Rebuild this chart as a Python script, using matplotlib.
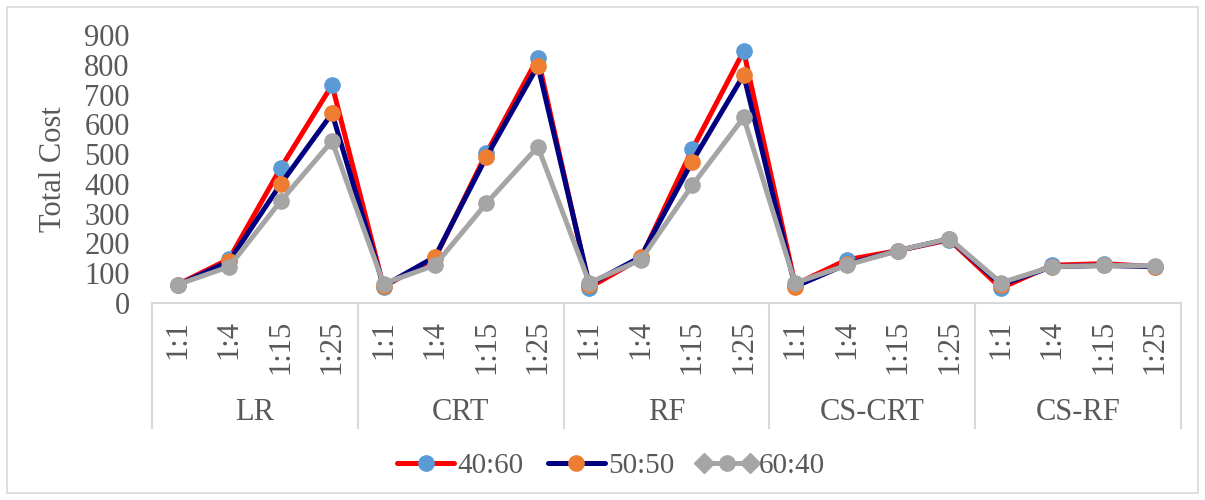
import matplotlib
matplotlib.use("Agg")
import matplotlib.pyplot as plt
from matplotlib.lines import Line2D
from matplotlib.patches import Rectangle
from matplotlib.legend_handler import HandlerBase
import matplotlib.transforms as mtransforms

plt.rcParams['font.family'] = ['Liberation Serif', 'DejaVu Serif']

ratios = ["1:1", "1:4", "1:15", "1:25"]
models = ["LR", "CRT", "RF", "CS-CRT", "CS-RF"]

cost_40_60 = [62, 148, 453, 732, 55, 150, 503, 823, 52, 150, 516, 846,
              62, 145, 176, 212, 50, 127, 132, 122]
cost_50_50 = [60, 140, 399, 637, 57, 155, 491, 797, 62, 155, 475, 766,
              55, 130, 176, 215, 62, 122, 126, 122]
cost_60_40 = [62, 122, 342, 544, 65, 127, 335, 525, 68, 145, 395, 623,
              67, 127, 176, 216, 68, 122, 126, 125]

txt = "#595959"
grid = "#d9d9d9"
fs = 22
lw = 3.6
ms = 11


class LineKey(HandlerBase):
    """Line with a marker in the middle and optional diamond ends."""

    def __init__(self, line_color, dot_color, ends=False):
        super().__init__()
        self.line_color = line_color
        self.dot_color = dot_color
        self.ends = ends

    def create_artists(self, legend, orig_handle, xdescent, ydescent,
                       width, height, fontsize, trans):
        y = height / 2 - ydescent
        x0, x1 = -xdescent, width - xdescent
        arts = []
        if self.ends:
            arts.append(Line2D([x0 + 4, x1 - 4], [y, y], color=self.line_color,
                               lw=lw, transform=trans))
            arts.append(Line2D([x0 + 4, x1 - 4], [y, y], lw=0, marker="D",
                               ms=ms * 0.9, color=self.line_color,
                               transform=trans))
        else:
            arts.append(Line2D([x0, x1], [y, y], color=self.line_color, lw=lw,
                               solid_capstyle="round", transform=trans))
        arts.append(Line2D([(x0 + x1) / 2], [y], lw=0, marker="o", ms=ms,
                           mfc=self.dot_color, mec=self.dot_color,
                           transform=trans))
        return arts


fig = plt.figure(figsize=(12.05, 5.0), dpi=100)
ax = fig.add_axes([152/1205, 1 - 303/500, 1029/1205, 268/500])

# outer chart border
fig.patches.append(Rectangle((7/1205, 7/500), 1191/1205, 486/500,
                             transform=fig.transFigure, fill=False,
                             edgecolor=grid, linewidth=1.2))

x = list(range(len(models) * len(ratios)))
l1, = ax.plot(x, cost_40_60, color="#ff0000", lw=lw, marker="o", ms=ms,
              mfc="#5b9bd5", mec="#5b9bd5", zorder=3)
l2, = ax.plot(x, cost_50_50, color="#000080", lw=lw, marker="o", ms=ms,
              mfc="#ed7d31", mec="#ed7d31", zorder=4)
l3, = ax.plot(x, cost_60_40, color="#a5a5a5", lw=lw, marker="o", ms=ms,
              mfc="#a5a5a5", mec="#a5a5a5", zorder=5)

ax.set_xlim(-0.5, len(x) - 0.5)
ax.set_ylim(0, 900)
ax.set_yticks(range(0, 901, 100))
ax.tick_params(axis="y", length=0, pad=16, labelsize=fs, labelcolor=txt)
ax.set_xticks(x)
ax.set_xticklabels(ratios * len(models), rotation=90)
ax.tick_params(axis="x", length=0, pad=12, labelsize=fs, labelcolor=txt)

for s in ["top", "right", "left"]:
    ax.spines[s].set_visible(False)
ax.spines["bottom"].set_color(grid)
ax.spines["bottom"].set_linewidth(1.5)

ax.set_ylabel("Total Cost", fontsize=fs, color=txt)
ax.yaxis.set_label_coords(-0.0816, 0.5)

# second level of the category axis
trans = mtransforms.blended_transform_factory(ax.transData, ax.transAxes)
for k in range(len(models) + 1):
    xs = k * len(ratios) - 0.5
    ax.add_line(Line2D([xs, xs], [0, -0.466], transform=trans, color=grid,
                       lw=1.5, clip_on=False))
for k, m in enumerate(models):
    ax.text(k * len(ratios) + 1.5, -0.407, m, transform=trans, ha="center",
            va="center", fontsize=fs, color=txt)

fig.legend([l1, l2, l3], ["40:60", "50:50", "60:40"],
           handler_map={l1: LineKey("#ff0000", "#5b9bd5"),
                        l2: LineKey("#000080", "#ed7d31"),
                        l3: LineKey("#a5a5a5", "#a5a5a5", ends=True)},
           loc="center", bbox_to_anchor=(611/1205, 1 - 466/500), ncol=3,
           frameon=False, fontsize=21, labelcolor=txt, handlelength=1.95,
           handletextpad=0.1, columnspacing=0.85)

fig.savefig("out.png", dpi=100)
